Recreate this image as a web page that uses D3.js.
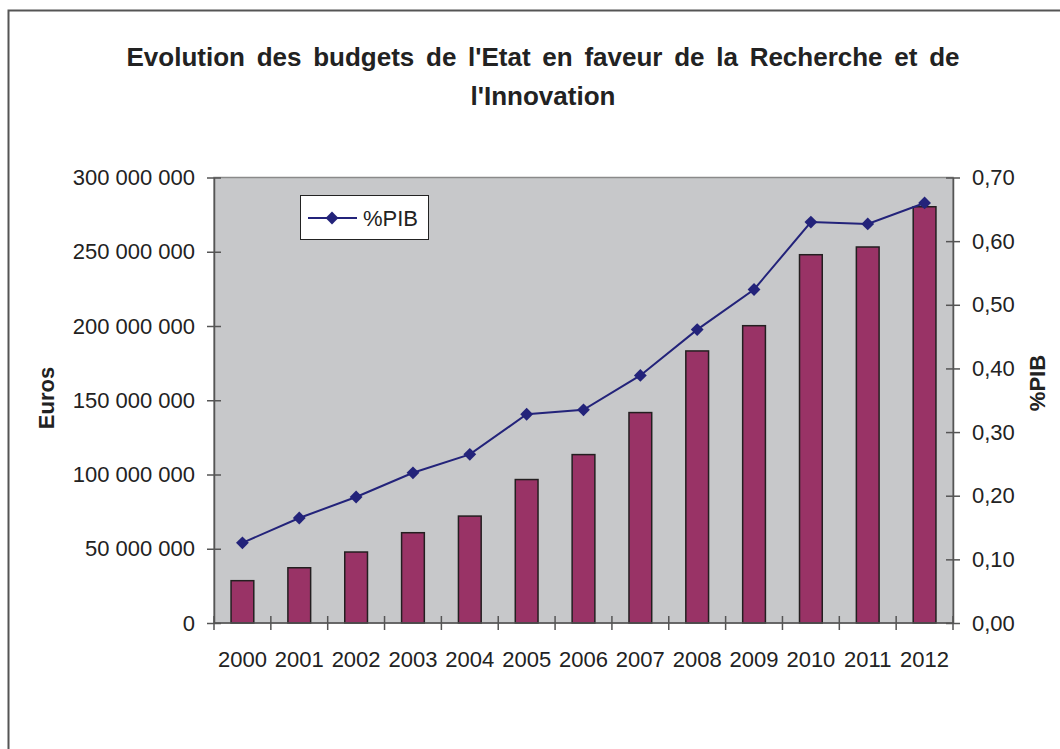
<!DOCTYPE html>
<html>
<head>
<meta charset="utf-8">
<script src="https://cdn.jsdelivr.net/npm/d3@7"></script>
<style>
  html, body { margin: 0; padding: 0; background: #fff; }
  svg { display: block; font-family: "Liberation Sans", Arial, sans-serif; }
</style>
</head>
<body>
<svg id="chart" width="1060" height="749"></svg>
<script>
const years = ["2000","2001","2002","2003","2004","2005","2006","2007","2008","2009","2010","2011","2012"];
const budgetEuros = [28500000, 37200000, 47800000, 60800000, 72000000, 96600000, 113400000, 141700000, 183200000, 200200000, 248000000, 253200000, 280300000];
const pctPIB = [0.126, 0.165, 0.198, 0.236, 0.265, 0.328, 0.335, 0.389, 0.461, 0.524, 0.630, 0.627, 0.660];
const leftTicks = [0, 50000000, 100000000, 150000000, 200000000, 250000000, 300000000];
const rightTicks = [0, 0.1, 0.2, 0.3, 0.4, 0.5, 0.6, 0.7];
const titleLines = ["Evolution des budgets de l'Etat en faveur de la Recherche et de", "l'Innovation"];

const svg = d3.select("#chart");
const plot = { left: 214, right: 953, top: 177.5, bottom: 623 };

// outer frame
svg.append("rect").attr("x", 8.5).attr("y", 10.5).attr("width", 1060).attr("height", 760)
  .attr("fill", "none").attr("stroke", "#555").attr("stroke-width", 2);

// title
svg.append("g").selectAll("text").data(titleLines).join("text")
  .attr("x", 543).attr("y", (d, i) => 66 + i * 39)
  .attr("text-anchor", "middle").attr("font-size", 26).attr("font-weight", "bold")
  .attr("word-spacing", "4.5px")
  .attr("fill", "#222").text(d => d);

const x = d3.scaleBand().domain(years).range([plot.left, plot.right])
  .paddingInner(0.6).paddingOuter(0.3);
const yL = d3.scaleLinear().domain([0, 300000000]).range([plot.bottom, plot.top]);
const yR = d3.scaleLinear().domain([0, 0.7]).range([plot.bottom, plot.top]);

// plot background
svg.append("rect").attr("x", plot.left).attr("y", plot.top)
  .attr("width", plot.right - plot.left).attr("height", plot.bottom - plot.top)
  .attr("fill", "#c7c8ca").attr("stroke", "#8a8a8a").attr("stroke-width", 1.5);

// bars
svg.append("g").selectAll("rect").data(years).join("rect")
  .attr("x", d => x(d)).attr("width", x.bandwidth())
  .attr("y", (d, i) => yL(budgetEuros[i]))
  .attr("height", (d, i) => yL(0) - yL(budgetEuros[i]))
  .attr("fill", "#993366").attr("stroke", "#231f20").attr("stroke-width", 1.5);

// axes
const fmtL = v => d3.format(",")(v).replace(/,/g, " ");
const fmtR = v => d3.format(".2f")(v).replace(".", ",");
const axisColor = "#555";

const gL = svg.append("g").attr("transform", `translate(${plot.left},0)`)
  .call(d3.axisLeft(yL).tickValues(leftTicks).tickFormat(fmtL).tickSizeInner(7).tickSizeOuter(0).tickPadding(12));
const gR = svg.append("g").attr("transform", `translate(${plot.right},0)`)
  .call(d3.axisRight(yR).tickValues(rightTicks).tickFormat(fmtR).tickSizeInner(7).tickSizeOuter(0).tickPadding(12));
[gL, gR].forEach(g => {
  g.select(".domain").attr("stroke", axisColor).attr("stroke-width", 1.5);
  g.selectAll(".tick line").attr("stroke", axisColor).attr("stroke-width", 1.5);
  g.selectAll(".tick text").attr("font-size", 22).attr("fill", "#222")
    .attr("font-family", "'Liberation Sans', Arial, sans-serif");
});
// make ticks cross the axis
gL.selectAll(".tick line").attr("x1", 7);
gR.selectAll(".tick line").attr("x1", -7);

// category axis
const gX = svg.append("g");
gX.append("line").attr("x1", plot.left).attr("x2", plot.right)
  .attr("y1", plot.bottom).attr("y2", plot.bottom)
  .attr("stroke", axisColor).attr("stroke-width", 1.5);
const boundaries = d3.range(years.length + 1).map(i => plot.left + i * x.step());
gX.selectAll("line.tk").data(boundaries).join("line").attr("class", "tk")
  .attr("x1", d => d).attr("x2", d => d)
  .attr("y1", plot.bottom - 7).attr("y2", plot.bottom + 7)
  .attr("stroke", axisColor).attr("stroke-width", 1.5);
gX.selectAll("text").data(years).join("text")
  .attr("x", d => x(d) + x.bandwidth() / 2).attr("y", 667)
  .attr("text-anchor", "middle").attr("font-size", 22).attr("fill", "#222").text(d => d);

// line series
const line = d3.line().x((d, i) => x(years[i]) + x.bandwidth() / 2).y(d => yR(d));
svg.append("path").datum(pctPIB).attr("d", line)
  .attr("fill", "none").attr("stroke", "#23237a").attr("stroke-width", 2);
const marker = d3.symbol().type(d3.symbolSquare).size(82);
svg.append("g").selectAll("path").data(pctPIB).join("path")
  .attr("transform", (d, i) => `translate(${x(years[i]) + x.bandwidth() / 2},${yR(d)}) rotate(45)`)
  .attr("d", marker).attr("fill", "#23237a");

// axis titles
svg.append("text").attr("transform", "translate(54,398) rotate(-90)")
  .attr("text-anchor", "middle").attr("font-size", 22).attr("font-weight", "bold")
  .attr("fill", "#222").text("Euros");
svg.append("text").attr("transform", "translate(1045,383) rotate(-90)")
  .attr("text-anchor", "middle").attr("font-size", 22).attr("font-weight", "bold")
  .attr("fill", "#222").text("%PIB");

// legend
const lg = svg.append("g");
lg.append("rect").attr("x", 300.5).attr("y", 195.5).attr("width", 128).attr("height", 44)
  .attr("fill", "#fff").attr("stroke", "#222").attr("stroke-width", 1);
lg.append("line").attr("x1", 308).attr("x2", 357).attr("y1", 218).attr("y2", 218)
  .attr("stroke", "#23237a").attr("stroke-width", 2);
lg.append("path").attr("transform", "translate(332,218) rotate(45)").attr("d", marker).attr("fill", "#23237a");
lg.append("text").attr("x", 363).attr("y", 226).attr("font-size", 22).attr("fill", "#222").text("%PIB");
</script>
</body>
</html>
